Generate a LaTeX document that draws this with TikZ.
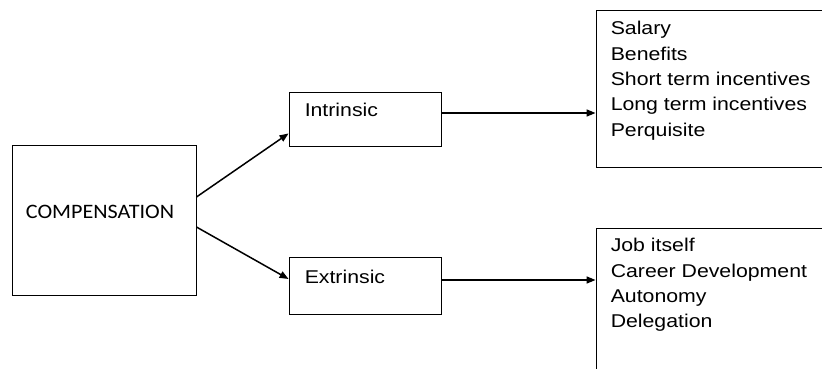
\documentclass[tikz,border=0pt]{standalone}
\usepackage{fontspec}
\setmainfont{Liberation Sans}[FakeStretch=1.15]
\newfontfamily\calfont{Carlito}[FakeStretch=1.08]
\usetikzlibrary{arrows.meta}
\begin{document}
\begin{tikzpicture}[x=1pt,y=-1pt,
  blk/.style={draw, line width=0.9pt},
  txt/.style={inner sep=0pt, font=\fontsize{18.5}{25.4}\selectfont},
  link/.style={-{Triangle[length=9pt,width=7pt]}, line width=1.5pt}]
\useasboundingbox (0,0) rectangle (822,369);
\clip (0,0) rectangle (822,369);
\node(comp) at (104,220) [blk, minimum width=184pt, minimum height=150pt]{};
\node(intr) at (365,119) [blk, minimum width=152pt, minimum height=54pt]{};
\node(extr) at (365,285.5) [blk, minimum width=152pt, minimum height=57pt]{};
\node(pay) at (718,88.5) [blk, minimum width=244pt, minimum height=157pt]{};
\node(growth) at (718,309) [blk, minimum width=244pt, minimum height=162pt]{};

\node(comptxt) at ([xshift=-4pt,yshift=8.5pt]comp.center) [inner sep=0pt, font=\calfont\fontsize{20.5}{24}\selectfont]{COMPENSATION};
\node(intrtxt) at ([xshift=16pt,yshift=2pt]intr.west) [txt, anchor=base west]{Intrinsic};
\node(extrtxt) at ([xshift=16pt,yshift=2.5pt]extr.west) [txt, anchor=base west]{Extrinsic};
\node(paytxt) at ([xshift=15pt,yshift=-11.5pt]pay.north west) [txt, anchor=north west, align=left]{Salary\\Benefits\\Short term incentives\\Long term incentives\\Perquisite};
\node(growthtxt) at ([xshift=15pt,yshift=-10.5pt]growth.north west) [txt, anchor=north west, align=left]{Job itself\\Career Development\\Autonomy\\Delegation};

\draw [link] ([yshift=23pt]comp.east) -- ([yshift=13pt]intr.south west);
\draw [link] ([yshift=-7pt]comp.east) -- ([yshift=6.5pt]extr.west);
\draw [link] ([yshift=6pt]intr.east) -- ([yshift=6pt]intr.east -| pay.west);
\draw [link] ([yshift=5.5pt]extr.east) -- ([yshift=5.5pt]extr.east -| growth.west);
\end{tikzpicture}
\end{document}
